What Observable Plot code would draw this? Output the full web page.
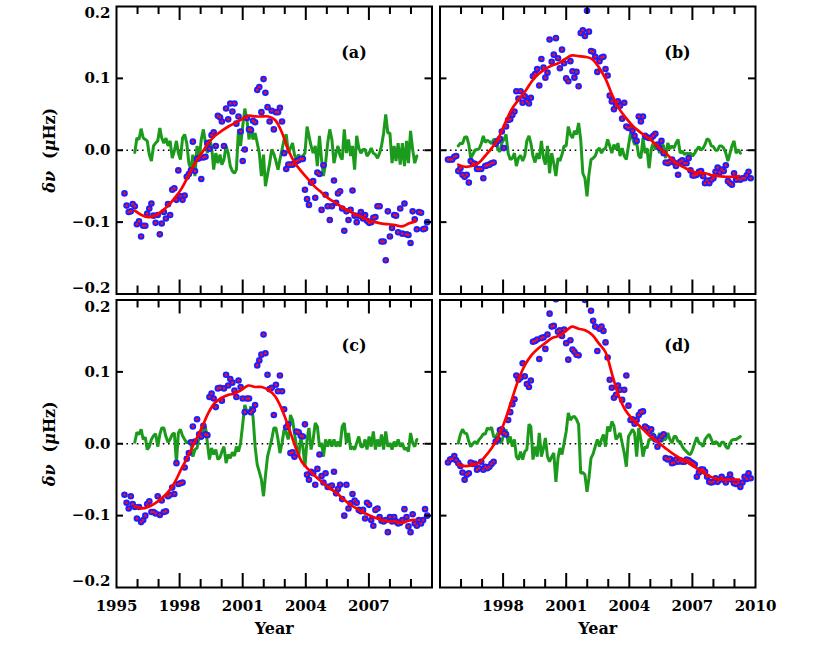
<!DOCTYPE html>
<html><head><meta charset="utf-8">
<script src="https://cdn.jsdelivr.net/npm/d3@7"></script>
<script src="https://cdn.jsdelivr.net/npm/@observablehq/plot@0.6"></script>
<style>body{margin:0;background:#fff}#chart svg{display:block}</style>
</head><body><div id="chart"></div><script>
// 36-day cadence epochs (years)
const years = [
1995.38,1995.48,1995.58,1995.68,1995.77,1995.87,1995.97,1996.07,1996.17,1996.27,
1996.37,1996.46,1996.56,1996.66,1996.76,1996.86,1996.96,1997.06,1997.15,1997.25,
1997.35,1997.45,1997.55,1997.65,1997.75,1997.85,1997.94,1998.04,1998.14,1998.24,
1998.34,1998.44,1998.54,1998.63,1998.73,1998.83,1998.93,1999.03,1999.13,1999.23,
1999.32,1999.42,1999.52,1999.62,1999.72,1999.82,1999.92,2000.01,2000.11,2000.21,
2000.31,2000.41,2000.51,2000.61,2000.70,2000.80,2000.90,2001.00,2001.10,2001.20,
2001.30,2001.39,2001.49,2001.59,2001.69,2001.79,2001.89,2001.99,2002.08,2002.18,
2002.28,2002.38,2002.48,2002.58,2002.68,2002.77,2002.87,2002.97,2003.07,2003.17,
2003.27,2003.37,2003.46,2003.56,2003.66,2003.76,2003.86,2003.96,2004.06,2004.15,
2004.25,2004.35,2004.45,2004.55,2004.65,2004.75,2004.84,2004.94,2005.04,2005.14,
2005.24,2005.34,2005.44,2005.53,2005.63,2005.73,2005.83,2005.93,2006.03,2006.13,
2006.22,2006.32,2006.42,2006.52,2006.62,2006.72,2006.82,2006.91,2007.01,2007.11,
2007.21,2007.31,2007.41,2007.51,2007.60,2007.70,2007.80,2007.90,2008.00,2008.10,
2008.20,2008.29,2008.39,2008.49,2008.59,2008.69,2008.79,2008.88,2008.98,2009.08,
2009.18,2009.28,2009.38,2009.48,2009.58,2009.67,2009.77];

const panelLabels = ["(a)", "(b)", "(c)", "(d)"];
const panelCols = [0, 1, 0, 1];
const panelRows = [0, 0, 1, 1];

// frequency shifts (muHz), one per epoch
const shiftA = [
-0.060,-0.077,-0.086,-0.085,-0.075,-0.078,-0.103,-0.099,-0.120,-0.105,
-0.105,-0.088,-0.081,-0.074,-0.091,-0.101,-0.090,-0.117,-0.102,-0.086,
-0.095,-0.075,-0.090,-0.055,-0.053,-0.069,-0.028,-0.064,-0.069,-0.063,
-0.037,-0.033,-0.028,0.012,-0.029,-0.012,-0.011,-0.040,-0.010,-0.009,
0.010,0.002,0.021,0.025,0.006,0.048,0.046,0.040,0.006,0.058,
0.043,0.065,0.054,0.065,0.037,0.047,0.026,-0.015,0.001,0.045,
0.029,0.028,0.041,0.039,0.084,0.088,0.053,0.099,0.080,0.060,
0.040,0.055,0.029,0.053,0.053,0.059,0.040,-0.004,-0.026,-0.020,
-0.020,-0.020,-0.018,-0.015,-0.014,-0.012,-0.012,-0.055,-0.068,-0.076,
-0.045,-0.043,-0.066,-0.031,-0.033,-0.083,-0.021,-0.062,-0.078,-0.097,
-0.078,-0.042,-0.073,-0.060,-0.057,-0.081,-0.112,-0.085,-0.097,-0.083,
-0.056,-0.091,-0.100,-0.091,-0.086,-0.095,-0.090,-0.098,-0.101,-0.100,
-0.094,-0.093,-0.078,-0.078,-0.127,-0.127,-0.153,-0.085,-0.120,-0.108,
-0.090,-0.091,-0.114,-0.081,-0.116,-0.074,-0.117,-0.118,-0.129,-0.085,
-0.096,-0.110,-0.086,-0.087,-0.110,-0.109,-0.100];
const shiftB = [
-0.013,-0.013,-0.013,-0.009,-0.008,-0.029,-0.025,-0.034,-0.037,-0.034,
-0.045,-0.015,-0.018,-0.019,-0.026,-0.026,-0.026,-0.039,-0.022,-0.021,
-0.020,-0.018,-0.017,0.009,0.013,0.016,0.026,0.003,0.033,0.042,
0.043,0.049,0.054,0.082,0.072,0.082,0.066,0.075,0.068,0.065,
0.073,0.103,0.106,0.113,0.090,0.127,0.115,0.101,0.108,0.154,
0.123,0.133,0.156,0.128,0.114,0.140,0.121,0.100,0.096,0.124,
0.110,0.101,0.109,0.089,0.163,0.167,0.159,0.194,0.165,0.138,
0.137,0.130,0.109,0.124,0.129,0.130,0.113,0.104,0.076,0.068,
0.057,0.062,0.068,0.062,0.044,0.066,0.033,0.031,0.032,0.027,
0.020,0.013,0.047,0.040,0.047,0.020,0.018,0.017,0.017,0.020,
0.023,0.008,0.003,0.013,-0.004,-0.017,-0.018,-0.016,-0.013,-0.017,
-0.022,-0.034,-0.016,-0.014,-0.018,-0.018,-0.011,-0.028,-0.035,-0.035,
-0.034,-0.030,-0.029,-0.036,-0.046,-0.042,-0.046,-0.041,-0.039,-0.030,
-0.024,-0.031,-0.027,-0.029,-0.021,-0.043,-0.046,-0.048,-0.032,-0.041,
-0.040,-0.041,-0.039,-0.039,-0.035,-0.030,-0.039];
const shiftC = [
-0.071,-0.082,-0.090,-0.073,-0.084,-0.088,-0.104,-0.088,-0.109,-0.106,
-0.100,-0.084,-0.080,-0.095,-0.095,-0.097,-0.073,-0.099,-0.079,-0.095,
-0.094,-0.073,-0.071,-0.061,-0.070,-0.027,-0.056,-0.055,-0.054,-0.033,
-0.021,-0.013,0.002,0.024,0.003,0.034,0.013,0.010,0.025,0.013,
0.012,0.065,0.070,0.063,0.051,0.077,0.078,0.060,0.077,0.096,
0.081,0.090,0.085,0.074,0.065,0.088,0.079,0.063,0.044,0.063,
0.063,0.044,0.047,0.054,0.109,0.116,0.124,0.152,0.126,0.096,
0.076,0.078,0.040,0.082,0.073,0.095,0.073,0.048,0.023,0.027,
-0.013,-0.012,-0.018,0.017,0.016,0.011,0.010,0.027,-0.043,-0.050,
-0.039,-0.041,-0.057,-0.035,-0.015,-0.045,-0.054,-0.041,-0.060,-0.060,
-0.058,-0.039,-0.069,-0.063,-0.057,-0.077,-0.100,-0.057,-0.090,-0.083,
-0.070,-0.079,-0.082,-0.092,-0.094,-0.092,-0.104,-0.082,-0.085,-0.106,
-0.114,-0.092,-0.090,-0.102,-0.107,-0.108,-0.106,-0.123,-0.102,-0.108,
-0.102,-0.108,-0.111,-0.110,-0.106,-0.091,-0.102,-0.115,-0.123,-0.098,
-0.111,-0.114,-0.106,-0.111,-0.106,-0.091,-0.100];
const shiftD = [
-0.026,-0.022,-0.021,-0.017,-0.023,-0.027,-0.031,-0.040,-0.050,-0.043,
-0.041,-0.026,-0.028,-0.028,-0.036,-0.034,-0.025,-0.036,-0.032,-0.034,
-0.032,-0.028,-0.025,0.003,0.006,0.019,0.020,0.015,0.013,0.033,
0.044,0.055,0.062,0.095,0.089,0.092,0.112,0.094,0.083,0.079,
0.088,0.142,0.143,0.145,0.118,0.147,0.148,0.132,0.152,0.181,
0.163,0.164,0.201,0.156,0.158,0.150,0.159,0.140,0.117,0.144,
0.131,0.128,0.124,0.123,0.215,0.208,0.200,0.212,0.206,0.185,
0.171,0.163,0.129,0.160,0.163,0.157,0.141,0.120,0.089,0.078,
0.064,0.068,0.081,0.075,0.061,0.075,0.095,0.053,0.033,0.034,
0.028,0.033,0.040,0.044,0.045,0.024,0.022,0.017,0.020,0.010,
0.006,-0.004,0.006,0.010,0.013,-0.020,-0.022,-0.021,-0.027,-0.026,
-0.022,-0.025,-0.023,-0.025,-0.025,-0.022,-0.023,-0.025,-0.027,-0.029,
-0.046,-0.040,-0.036,-0.036,-0.039,-0.046,-0.053,-0.054,-0.053,-0.048,
-0.053,-0.050,-0.046,-0.050,-0.054,-0.049,-0.043,-0.050,-0.055,-0.056,
-0.054,-0.060,-0.054,-0.046,-0.049,-0.041,-0.048];

// residual series, starting at epoch index greenFirst
const greenFirst = 5;
const greenA = [
-0.003,0.017,0.015,0.030,0.017,0.015,0.013,-0.006,-0.015,0.006,
0.010,0.013,0.031,0.017,0.010,0.017,0.006,0.013,-0.011,-0.001,
0.013,-0.004,-0.013,0.017,0.022,0.010,-0.018,-0.027,-0.006,-0.036,
0.006,-0.013,0.015,0.029,0.010,-0.004,0.015,0.006,-0.027,-0.004,
-0.018,-0.006,-0.020,-0.013,0.006,-0.004,-0.022,-0.029,-0.032,-0.027,
0.029,0.006,0.033,0.058,0.043,0.015,0.033,0.015,0.024,0.010,
-0.004,-0.036,-0.006,-0.050,-0.034,-0.018,0.001,-0.005,-0.015,-0.027,
-0.013,0.001,0.015,0.022,-0.004,0.003,0.010,-0.006,-0.013,-0.006,
-0.015,-0.008,-0.004,0.033,0.020,0.006,-0.004,0.006,-0.022,0.020,
-0.013,-0.036,-0.018,0.010,0.029,0.015,-0.018,-0.004,0.006,-0.008,
-0.013,0.029,-0.004,0.015,-0.008,0.006,-0.027,0.020,0.003,-0.004,
0.001,0.001,-0.008,-0.004,0.003,-0.004,-0.006,-0.011,-0.004,0.006,
0.024,0.050,0.024,0.024,-0.018,0.006,-0.015,0.010,-0.020,0.010,
-0.022,0.013,-0.018,0.027,0.001,-0.018,-0.008];
const greenB = [
0.006,0.010,0.009,0.018,0.019,0.008,-0.011,-0.006,0.000,0.001,
0.002,0.009,0.020,0.011,0.014,0.012,0.009,0.015,0.015,0.001,
-0.002,0.010,0.015,0.022,-0.004,-0.013,-0.011,-0.004,-0.022,-0.011,
-0.007,-0.015,-0.008,0.013,0.020,0.010,-0.008,-0.017,-0.004,-0.012,
0.013,-0.011,-0.020,0.006,-0.032,-0.004,-0.018,-0.036,-0.011,-0.015,
-0.006,0.006,0.006,0.033,0.022,0.017,0.027,0.022,0.038,0.015,
-0.032,-0.039,-0.064,-0.034,-0.013,-0.011,-0.008,0.000,0.003,-0.004,
0.001,0.003,0.015,0.006,-0.004,0.008,0.001,0.010,-0.008,0.003,
-0.008,-0.013,0.006,0.024,0.017,0.008,0.010,-0.008,-0.011,0.017,
-0.004,0.003,-0.025,0.001,0.010,0.001,0.010,-0.004,0.010,0.006,
-0.011,0.010,0.002,0.006,0.003,0.010,0.015,-0.004,-0.001,-0.006,
-0.004,-0.005,-0.004,-0.008,-0.004,0.001,0.005,0.000,0.003,0.008,
0.016,0.014,0.006,0.005,0.000,0.000,0.006,0.006,0.003,-0.004,
-0.015,-0.004,0.006,0.013,-0.004,0.001,-0.004];
const greenC = [
0.002,0.016,0.013,0.020,0.006,0.009,-0.008,-0.004,0.006,0.011,
0.014,-0.004,0.013,0.022,0.022,0.010,0.002,0.006,0.013,0.015,
-0.027,0.015,0.020,0.011,0.006,0.001,0.003,-0.001,-0.018,-0.008,
-0.006,0.010,0.006,0.022,0.024,0.001,-0.022,-0.006,-0.015,-0.008,
-0.022,-0.019,-0.011,-0.004,-0.027,-0.015,-0.020,-0.012,-0.017,-0.004,
-0.011,0.001,0.027,0.054,0.045,0.043,0.052,0.038,-0.004,-0.029,
-0.039,-0.050,-0.073,-0.045,-0.018,-0.006,0.006,0.022,0.022,0.006,
-0.013,0.001,0.020,0.015,0.006,0.040,0.033,0.015,-0.004,-0.018,
0.008,-0.004,-0.032,0.006,0.022,-0.008,0.006,0.029,0.024,-0.004,
0.001,-0.018,0.006,-0.004,0.006,-0.004,0.006,-0.004,0.003,-0.004,
0.024,0.029,0.001,0.015,-0.008,-0.004,-0.008,0.001,0.010,-0.004,
-0.004,0.006,-0.008,0.010,-0.004,0.017,-0.008,0.006,-0.004,0.013,
-0.008,0.017,-0.004,0.001,-0.008,0.003,-0.004,0.006,-0.004,0.001,
-0.008,-0.006,-0.011,0.015,0.001,-0.004,0.006];
const greenD = [
0.001,0.013,0.020,0.015,0.014,0.003,-0.004,0.000,0.003,0.000,
0.006,0.009,0.014,0.013,0.022,0.020,0.023,0.010,0.009,0.015,
0.001,0.003,0.015,0.020,0.001,0.010,-0.004,0.006,-0.018,-0.022,
-0.011,-0.022,-0.011,-0.008,0.027,0.024,-0.022,-0.004,-0.018,0.015,
-0.018,-0.006,0.008,-0.018,-0.025,-0.018,-0.013,-0.053,-0.020,-0.006,
-0.015,0.001,0.017,0.043,0.033,0.037,0.038,0.034,0.027,-0.041,
-0.040,-0.043,-0.067,-0.048,-0.020,-0.014,-0.004,0.006,-0.004,0.006,
0.013,-0.004,0.024,0.017,0.031,0.025,0.006,0.010,0.015,0.001,
-0.013,-0.032,0.010,0.015,0.020,0.015,-0.018,0.022,0.006,-0.018,
-0.004,-0.006,0.006,0.006,0.015,0.006,0.006,0.015,0.003,0.006,
0.006,0.015,0.006,0.001,0.010,0.010,0.003,0.003,-0.004,-0.008,
-0.011,-0.014,-0.015,-0.008,0.001,0.009,0.001,0.000,-0.004,0.006,
0.010,0.013,0.006,-0.001,0.003,0.001,-0.004,0.002,0.002,-0.004,
-0.007,0.001,0.005,0.006,0.006,0.008,0.010];

// smoothed trend
const redYears = [
1995.87,1996.19,1996.51,1996.83,1997.14,1997.46,1997.78,1998.10,1998.41,1998.73,
1999.05,1999.37,1999.68,2000.00,2000.32,2000.63,2000.95,2001.27,2001.59,2001.90,
2002.22,2002.54,2002.86,2003.17,2003.49,2003.81,2004.13,2004.44,2004.76,2005.08,
2005.40,2005.71,2006.03,2006.35,2006.67,2006.98,2007.30,2007.62,2007.94,2008.25,
2008.57,2008.89,2009.22];
const redA = [
-0.084,-0.090,-0.093,-0.091,-0.085,-0.077,-0.066,-0.053,-0.036,-0.018,
-0.004,0.010,0.020,0.027,0.033,0.038,0.043,0.048,0.047,0.047,
0.047,0.042,0.025,0.000,-0.018,-0.030,-0.041,-0.051,-0.059,-0.067,
-0.073,-0.079,-0.084,-0.089,-0.093,-0.097,-0.100,-0.102,-0.103,-0.104,
-0.106,-0.102,-0.099];
const redB = [
-0.020,-0.023,-0.022,-0.018,-0.008,0.003,0.017,0.038,0.057,0.070,
0.082,0.096,0.106,0.113,0.118,0.121,0.127,0.132,0.131,0.130,
0.127,0.116,0.100,0.078,0.059,0.046,0.035,0.027,0.020,0.013,
0.004,-0.003,-0.013,-0.020,-0.025,-0.029,-0.032,-0.032,-0.035,-0.036,
-0.037,-0.037,-0.036];
const redC = [
-0.087,-0.090,-0.088,-0.083,-0.076,-0.067,-0.053,-0.034,-0.017,0.003,
0.022,0.043,0.057,0.064,0.068,0.070,0.075,0.081,0.079,0.079,
0.075,0.066,0.048,0.024,-0.003,-0.025,-0.036,-0.045,-0.053,-0.061,
-0.067,-0.075,-0.083,-0.089,-0.095,-0.099,-0.103,-0.106,-0.108,-0.108,
-0.110,-0.107,-0.106];
const redD = [
-0.029,-0.031,-0.030,-0.027,-0.018,-0.006,0.010,0.033,0.061,0.089,
0.110,0.124,0.133,0.140,0.147,0.150,0.156,0.163,0.160,0.158,
0.152,0.140,0.128,0.098,0.067,0.047,0.035,0.026,0.017,0.008,
0.001,-0.006,-0.013,-0.019,-0.024,-0.030,-0.036,-0.042,-0.047,-0.049,
-0.050,-0.050,-0.050];

// axes
const yMidTicks = [0.1, 0.0, -0.1];
const yEndTop = [0.2];
const yEndBottom = [-0.2];
const xMinorYears = [1996, 1997, 1999, 2000, 2002, 2003, 2005, 2006, 2008, 2009];
const xMajorYears = [1998, 2001, 2004, 2007];
const xLabelsLeft = [1995, 1998, 2001, 2004, 2007];
const xLabelsRight = [1998, 2001, 2004, 2007, 2010];
const xTitle = "Year";
const yTitle = "δν  (μHz)";

// ---- build tables ----
const shifts = [shiftA, shiftB, shiftC, shiftD];
const greens = [greenA, greenB, greenC, greenD];
const reds = [redA, redB, redC, redD];
const pts = [], grn = [], trend = [];
shifts.forEach((s, p) => s.forEach((v, i) => pts.push({col: panelCols[p], row: panelRows[p], year: years[i], v})));
greens.forEach((g, p) => g.forEach((v, i) => grn.push({col: panelCols[p], row: panelRows[p], year: years[i + greenFirst], v})));
reds.forEach((r, p) => r.forEach((v, i) => trend.push({col: panelCols[p], row: panelRows[p], year: redYears[i], v})));
const fmt = v => (v < 0 ? "\u2212" : "") + Math.abs(v).toFixed(1);
const rowsL = [0, 1];
const yLabMid = rowsL.flatMap(r => yMidTicks.map(v => ({col: 0, row: r, v, t: fmt(v)})));
const yLabTop = rowsL.flatMap(r => yEndTop.map(v => ({col: 0, row: r, v, t: fmt(v)})));
const yLabBot = rowsL.flatMap(r => yEndBottom.map(v => ({col: 0, row: r, v, t: fmt(v)})));
const xLab = [...xLabelsLeft.map(y => ({col: 0, row: 1, year: y})), ...xLabelsRight.map(y => ({col: 1, row: 1, year: y}))];
const panels = panelLabels.map((label, p) => ({col: panelCols[p], row: panelRows[p], label}));
const yTitles = rowsL.map(r => ({col: 0, row: r}));
const xTitles = [0, 1].map(c => ({col: c, row: 1}));

const FW = 315.5, FH = 287.5;
const font = "'DejaVu Serif', serif";
const T = {fontSize: 15, fontWeight: "bold"};
const chart = Plot.plot({
  width: 830, height: 653,
  marginTop: 6, marginBottom: 66, marginLeft: 116, marginRight: 75,
  style: {fontFamily: font, fontSize: "15px", background: "white", color: "black"},
  fx: {domain: [0, 1], paddingInner: 8 / 323.5, paddingOuter: 0, round: false, axis: null, label: null},
  fy: {domain: [0, 1], paddingInner: 6 / 293.5, paddingOuter: 0, round: false, axis: null, label: null},
  x: {domain: [1995, 2010], axis: null},
  y: {domain: [-0.2, 0.2], axis: null},
  marks: [
    Plot.ruleY([0], {y: d => d, stroke: "black", strokeWidth: 1.5, strokeDasharray: "1.6,3.6"}),
    Plot.line(grn, {fx: "col", fy: "row", x: "year", y: "v", stroke: "#1c9a1c", strokeWidth: 3, strokeLinejoin: "miter", clip: true}),
    Plot.dot(pts, {fx: "col", fy: "row", x: "year", y: "v", r: 3.3, fill: "#1e1eff", clip: true}),
    Plot.dot(pts, {fx: "col", fy: "row", x: "year", y: "v", r: 1.3, fill: "#ff1010", clip: true}),
    Plot.line(trend, {fx: "col", fy: "row", x: "year", y: "v", stroke: "#ff0000", strokeWidth: 2.7, curve: "catmull-rom", clip: true}),
    Plot.frame({stroke: "black", strokeWidth: 2}),
    Plot.tickX(xMinorYears, {x: d => d, stroke: "black", strokeWidth: 2, insetBottom: FH - 8}),
    Plot.tickX(xMinorYears, {x: d => d, stroke: "black", strokeWidth: 2, insetTop: FH - 8}),
    Plot.tickX(xMajorYears, {x: d => d, stroke: "black", strokeWidth: 2, insetBottom: FH - 14}),
    Plot.tickX(xMajorYears, {x: d => d, stroke: "black", strokeWidth: 2, insetTop: FH - 14}),
    Plot.tickY(yMidTicks, {y: d => d, stroke: "black", strokeWidth: 2, insetRight: FW - 7}),
    Plot.tickY(yMidTicks, {y: d => d, stroke: "black", strokeWidth: 2, insetLeft: FW - 7}),
    Plot.text(yLabMid, {fx: "col", fy: "row", y: "v", text: "t", frameAnchor: "left", textAnchor: "end", lineAnchor: "middle", dx: -6, ...T}),
    Plot.text(yLabTop, {fx: "col", fy: "row", y: "v", text: "t", frameAnchor: "left", textAnchor: "end", lineAnchor: "middle", dx: -6, dy: 7, ...T}),
    Plot.text(yLabBot, {fx: "col", fy: "row", y: "v", text: "t", frameAnchor: "left", textAnchor: "end", lineAnchor: "middle", dx: -6, dy: -6, ...T}),
    Plot.text(xLab, {fx: "col", fy: "row", x: "year", text: d => String(d.year), frameAnchor: "bottom", lineAnchor: "middle", dy: 19, ...T}),
    Plot.text(xTitles, {fx: "col", fy: "row", text: () => xTitle, frameAnchor: "bottom", lineAnchor: "middle", dy: 41, fontSize: 16, fontWeight: "bold"}),
    Plot.text(yTitles, {fx: "col", fy: "row", text: () => yTitle, frameAnchor: "left", rotate: -90, textAnchor: "middle", lineAnchor: "middle", dx: -67, fontSize: 16, fontWeight: "bold"}),
    Plot.text(panels, {fx: "col", fy: "row", text: "label", frameAnchor: "top-right", textAnchor: "middle", lineAnchor: "middle", dx: -78, dy: 46, fontSize: 16, fontWeight: "bold"})
  ]
});
document.getElementById("chart").append(chart);
// italic Greek symbols in the y title
d3.select(chart).selectAll("text").filter(function () { return this.textContent === yTitle; }).each(function () {
  const t = d3.select(this);
  t.text(null);
  t.append("tspan").attr("font-style", "italic").text("δν");
  t.append("tspan").attr("dx", 12).text("(");
  t.append("tspan").attr("font-style", "italic").text("μ");
  t.append("tspan").text("Hz)");
});
</script></body></html>
